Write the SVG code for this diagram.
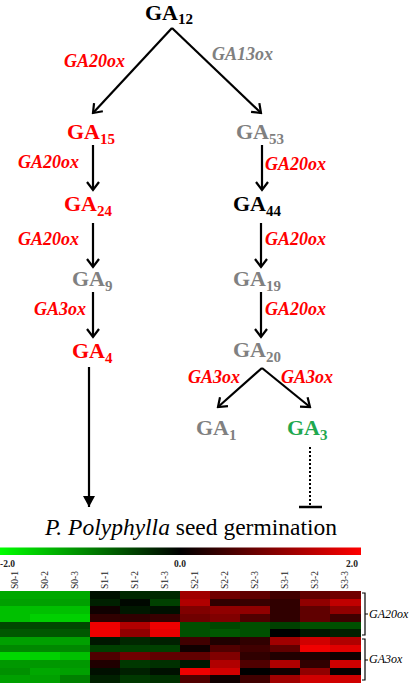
<svg xmlns="http://www.w3.org/2000/svg" width="409" height="685" viewBox="0 0 409 685">
<style>
text{font-family:"Liberation Serif","Times New Roman",Times,"DejaVu Serif",serif}
.ga{font-weight:bold;font-size:22px}
.sub{font-size:15px}
.enz{font-weight:bold;font-style:italic;font-size:18px}
.red{fill:#ff0000}
.gray{fill:#808080}
.blk{fill:#000000}
.grn{fill:#1fa84f}
.ln{stroke:#000;stroke-width:2.2;fill:none}
.sm{font-size:9.5px;fill:#222}
.br{stroke:#000;stroke-width:1.2;fill:none}
.gl{font-style:italic;font-size:12px;fill:#000}
</style>
<defs>
<marker id="v" viewBox="-10 -8 12 16" markerWidth="12" markerHeight="16" refX="0" refY="0" orient="auto" markerUnits="userSpaceOnUse">
<path d="M-8,-6 L0,0 L-8,6" stroke="#000" stroke-width="2.2" fill="none"/>
</marker>
<marker id="f" viewBox="-12 -8 14 16" markerWidth="14" markerHeight="16" refX="0" refY="0" orient="auto" markerUnits="userSpaceOnUse">
<path d="M-11,-6 L0,0 L-11,6 Z" fill="#000"/>
</marker>
<linearGradient id="cb" x1="0" x2="1" y1="0" y2="0">
<stop offset="0" stop-color="#00ff00"/>
<stop offset="0.5" stop-color="#000000"/>
<stop offset="1" stop-color="#ff0000"/>
</linearGradient>
</defs>
<rect width="409" height="685" fill="#fff"/>

<g id="connectors">
<line class="ln" x1="172" y1="28" x2="93" y2="113" marker-end="url(#v)"/>
<line class="ln" x1="172" y1="28" x2="261" y2="113" marker-end="url(#v)"/>
<line class="ln" x1="93" y1="145" x2="93" y2="190" marker-end="url(#v)"/>
<line class="ln" x1="93" y1="223" x2="93" y2="267" marker-end="url(#v)"/>
<line class="ln" x1="93" y1="292" x2="93" y2="337" marker-end="url(#v)"/>
<line class="ln" x1="262" y1="145" x2="262" y2="190" marker-end="url(#v)"/>
<line class="ln" x1="261" y1="223" x2="261" y2="267" marker-end="url(#v)"/>
<line class="ln" x1="261" y1="292" x2="261" y2="337" marker-end="url(#v)"/>
<line class="ln" x1="262" y1="368" x2="218" y2="407" marker-end="url(#v)"/>
<line class="ln" x1="262" y1="368" x2="310" y2="407" marker-end="url(#v)"/>
<line class="ln" x1="89" y1="367" x2="89" y2="507" marker-end="url(#f)"/>
<line x1="310" y1="447" x2="310" y2="505" stroke="#000" stroke-width="2" stroke-dasharray="2,2"/>
<line x1="299" y1="507" x2="322" y2="507" stroke="#000" stroke-width="2.5"/>
</g>

<g id="enzymes">
<text class="enz red" x="64" y="67">GA20ox</text>
<text class="enz gray" x="212" y="60">GA13ox</text>
<text class="enz red" x="18" y="168">GA20ox</text>
<text class="enz red" x="18" y="245">GA20ox</text>
<text class="enz red" x="34" y="315">GA3ox</text>
<text class="enz red" x="265" y="170">GA20ox</text>
<text class="enz red" x="265" y="245">GA20ox</text>
<text class="enz red" x="265" y="315">GA20ox</text>
<text class="enz red" x="188" y="383">GA3ox</text>
<text class="enz red" x="281" y="383">GA3ox</text>
</g>

<g id="GA12"><text class="ga blk" x="145" y="20">GA<tspan class="sub" dy="4">12</tspan></text></g>
<g id="GA15"><text class="ga red" x="67" y="139">GA<tspan class="sub" dy="5">15</tspan></text></g>
<g id="GA53"><text class="ga gray" x="236" y="139">GA<tspan class="sub" dy="5">53</tspan></text></g>
<g id="GA24"><text class="ga red" x="64" y="211">GA<tspan class="sub" dy="5">24</tspan></text></g>
<g id="GA44"><text class="ga blk" x="233" y="211">GA<tspan class="sub" dy="5">44</tspan></text></g>
<g id="GA9"><text class="ga gray" x="72" y="286">GA<tspan class="sub" dy="5">9</tspan></text></g>
<g id="GA19"><text class="ga gray" x="233" y="286">GA<tspan class="sub" dy="5">19</tspan></text></g>
<g id="GA4"><text class="ga red" x="72" y="358">GA<tspan class="sub" dy="5">4</tspan></text></g>
<g id="GA20"><text class="ga gray" x="233" y="357" font-weight="normal">GA<tspan class="sub" dy="5">20</tspan></text></g>
<g id="GA1"><text class="ga gray" x="196" y="435">GA<tspan class="sub" dy="5">1</tspan></text></g>
<g id="GA3"><text class="ga grn" x="287" y="435">GA<tspan class="sub" dy="5">3</tspan></text></g>

<g id="germination">
<text x="45" y="535" font-size="23.5" fill="#000"><tspan font-style="italic">P. Polyphylla</tspan> seed germination</text>
</g>

<g id="colorbar">
<rect x="0" y="547.5" width="361" height="7.5" fill="url(#cb)"/>
<text class="sm" x="0" y="567" font-weight="bold" font-size="9">-2.0</text>
<text class="sm" x="174" y="567" font-weight="bold" font-size="9">0.0</text>
<text class="sm" x="346" y="567" font-weight="bold" font-size="9">2.0</text>
</g>

<g id="samples">
<text class="sm" transform="translate(18,589) rotate(-90)">S0-1</text>
<text class="sm" transform="translate(48,589) rotate(-90)">S0-2</text>
<text class="sm" transform="translate(78,589) rotate(-90)">S0-3</text>
<text class="sm" transform="translate(108,589) rotate(-90)">S1-1</text>
<text class="sm" transform="translate(138,589) rotate(-90)">S1-2</text>
<text class="sm" transform="translate(168,589) rotate(-90)">S1-3</text>
<text class="sm" transform="translate(198,589) rotate(-90)">S2-1</text>
<text class="sm" transform="translate(228,589) rotate(-90)">S2-2</text>
<text class="sm" transform="translate(258,589) rotate(-90)">S2-3</text>
<text class="sm" transform="translate(288,589) rotate(-90)">S3-1</text>
<text class="sm" transform="translate(318,589) rotate(-90)">S3-2</text>
<text class="sm" transform="translate(348,589) rotate(-90)">S3-3</text>
</g>

<g id="heatmap" shape-rendering="crispEdges">
<g transform="translate(0,591)">
<rect x="0" y="0" width="30.1" height="7.7" fill="#00a800"/><rect x="30" y="0" width="30.1" height="7.7" fill="#00a800"/><rect x="60" y="0" width="30.1" height="7.7" fill="#00a800"/><rect x="90" y="0" width="30.1" height="7.7" fill="#001000"/><rect x="120" y="0" width="30.1" height="7.7" fill="#002800"/><rect x="150" y="0" width="30.1" height="7.7" fill="#002800"/><rect x="180" y="0" width="30.1" height="7.7" fill="#a00000"/><rect x="210" y="0" width="30.1" height="7.7" fill="#700000"/><rect x="240" y="0" width="30.1" height="7.7" fill="#600000"/><rect x="270" y="0" width="30.1" height="7.7" fill="#400000"/><rect x="300" y="0" width="30.1" height="7.7" fill="#600000"/><rect x="330" y="0" width="31" height="7.7" fill="#700000"/>
</g>
<g transform="translate(0,598.67)">
<rect x="0" y="0" width="30.1" height="7.7" fill="#00a000"/><rect x="30" y="0" width="30.1" height="7.7" fill="#00a000"/><rect x="60" y="0" width="30.1" height="7.7" fill="#00a000"/><rect x="90" y="0" width="30.1" height="7.7" fill="#002000"/><rect x="120" y="0" width="30.1" height="7.7" fill="#000800"/><rect x="150" y="0" width="30.1" height="7.7" fill="#004000"/><rect x="180" y="0" width="30.1" height="7.7" fill="#b00000"/><rect x="210" y="0" width="30.1" height="7.7" fill="#300000"/><rect x="240" y="0" width="30.1" height="7.7" fill="#380000"/><rect x="270" y="0" width="30.1" height="7.7" fill="#300000"/><rect x="300" y="0" width="30.1" height="7.7" fill="#900000"/><rect x="330" y="0" width="31" height="7.7" fill="#c00000"/>
</g>
<g transform="translate(0,606.33)">
<rect x="0" y="0" width="30.1" height="7.7" fill="#00c000"/><rect x="30" y="0" width="30.1" height="7.7" fill="#00c000"/><rect x="60" y="0" width="30.1" height="7.7" fill="#00c000"/><rect x="90" y="0" width="30.1" height="7.7" fill="#100000"/><rect x="120" y="0" width="30.1" height="7.7" fill="#001800"/><rect x="150" y="0" width="30.1" height="7.7" fill="#001000"/><rect x="180" y="0" width="30.1" height="7.7" fill="#800000"/><rect x="210" y="0" width="30.1" height="7.7" fill="#900000"/><rect x="240" y="0" width="30.1" height="7.7" fill="#900000"/><rect x="270" y="0" width="30.1" height="7.7" fill="#300000"/><rect x="300" y="0" width="30.1" height="7.7" fill="#600000"/><rect x="330" y="0" width="31" height="7.7" fill="#900000"/>
</g>
<g transform="translate(0,614)">
<rect x="0" y="0" width="30.1" height="7.7" fill="#00c000"/><rect x="30" y="0" width="30.1" height="7.7" fill="#00d000"/><rect x="60" y="0" width="30.1" height="7.7" fill="#00d000"/><rect x="90" y="0" width="30.1" height="7.7" fill="#300000"/><rect x="120" y="0" width="30.1" height="7.7" fill="#300000"/><rect x="150" y="0" width="30.1" height="7.7" fill="#380000"/><rect x="180" y="0" width="30.1" height="7.7" fill="#700000"/><rect x="210" y="0" width="30.1" height="7.7" fill="#800000"/><rect x="240" y="0" width="30.1" height="7.7" fill="#500000"/><rect x="270" y="0" width="30.1" height="7.7" fill="#300000"/><rect x="300" y="0" width="30.1" height="7.7" fill="#600000"/><rect x="330" y="0" width="31" height="7.7" fill="#400000"/>
</g>
<g transform="translate(0,621.67)">
<rect x="0" y="0" width="30.1" height="7.7" fill="#004800"/><rect x="30" y="0" width="30.1" height="7.7" fill="#004800"/><rect x="60" y="0" width="30.1" height="7.7" fill="#004800"/><rect x="90" y="0" width="30.1" height="7.7" fill="#f00000"/><rect x="120" y="0" width="30.1" height="7.7" fill="#b00000"/><rect x="150" y="0" width="30.1" height="7.7" fill="#f00000"/><rect x="180" y="0" width="30.1" height="7.7" fill="#005000"/><rect x="210" y="0" width="30.1" height="7.7" fill="#004800"/><rect x="240" y="0" width="30.1" height="7.7" fill="#005000"/><rect x="270" y="0" width="30.1" height="7.7" fill="#004000"/><rect x="300" y="0" width="30.1" height="7.7" fill="#005000"/><rect x="330" y="0" width="31" height="7.7" fill="#005000"/>
</g>
<g transform="translate(0,629.33)">
<rect x="0" y="0" width="30.1" height="7.7" fill="#005800"/><rect x="30" y="0" width="30.1" height="7.7" fill="#005800"/><rect x="60" y="0" width="30.1" height="7.7" fill="#005800"/><rect x="90" y="0" width="30.1" height="7.7" fill="#f00000"/><rect x="120" y="0" width="30.1" height="7.7" fill="#900000"/><rect x="150" y="0" width="30.1" height="7.7" fill="#e80000"/><rect x="180" y="0" width="30.1" height="7.7" fill="#005000"/><rect x="210" y="0" width="30.1" height="7.7" fill="#005800"/><rect x="240" y="0" width="30.1" height="7.7" fill="#005000"/><rect x="270" y="0" width="30.1" height="7.7" fill="#000000"/><rect x="300" y="0" width="30.1" height="7.7" fill="#001800"/><rect x="330" y="0" width="31" height="7.7" fill="#002000"/>
</g>
<g transform="translate(0,637)">
<rect x="0" y="0" width="30.1" height="7.7" fill="#00a000"/><rect x="30" y="0" width="30.1" height="7.7" fill="#00a000"/><rect x="60" y="0" width="30.1" height="7.7" fill="#00a000"/><rect x="90" y="0" width="30.1" height="7.7" fill="#001800"/><rect x="120" y="0" width="30.1" height="7.7" fill="#002800"/><rect x="150" y="0" width="30.1" height="7.7" fill="#002000"/><rect x="180" y="0" width="30.1" height="7.7" fill="#400000"/><rect x="210" y="0" width="30.1" height="7.7" fill="#200000"/><rect x="240" y="0" width="30.1" height="7.7" fill="#300000"/><rect x="270" y="0" width="30.1" height="7.7" fill="#a00000"/><rect x="300" y="0" width="30.1" height="7.7" fill="#d00000"/><rect x="330" y="0" width="31" height="7.7" fill="#b00000"/>
</g>
<g transform="translate(0,644.67)">
<rect x="0" y="0" width="30.1" height="7.7" fill="#008800"/><rect x="30" y="0" width="30.1" height="7.7" fill="#008800"/><rect x="60" y="0" width="30.1" height="7.7" fill="#008800"/><rect x="90" y="0" width="30.1" height="7.7" fill="#004000"/><rect x="120" y="0" width="30.1" height="7.7" fill="#004000"/><rect x="150" y="0" width="30.1" height="7.7" fill="#004000"/><rect x="180" y="0" width="30.1" height="7.7" fill="#100000"/><rect x="210" y="0" width="30.1" height="7.7" fill="#500000"/><rect x="240" y="0" width="30.1" height="7.7" fill="#400000"/><rect x="270" y="0" width="30.1" height="7.7" fill="#600000"/><rect x="300" y="0" width="30.1" height="7.7" fill="#f00000"/><rect x="330" y="0" width="31" height="7.7" fill="#e00000"/>
</g>
<g transform="translate(0,652.33)">
<rect x="0" y="0" width="30.1" height="7.7" fill="#00d800"/><rect x="30" y="0" width="30.1" height="7.7" fill="#00d000"/><rect x="60" y="0" width="30.1" height="7.7" fill="#00c000"/><rect x="90" y="0" width="30.1" height="7.7" fill="#500000"/><rect x="120" y="0" width="30.1" height="7.7" fill="#700000"/><rect x="150" y="0" width="30.1" height="7.7" fill="#600000"/><rect x="180" y="0" width="30.1" height="7.7" fill="#600000"/><rect x="210" y="0" width="30.1" height="7.7" fill="#800000"/><rect x="240" y="0" width="30.1" height="7.7" fill="#300000"/><rect x="270" y="0" width="30.1" height="7.7" fill="#200000"/><rect x="300" y="0" width="30.1" height="7.7" fill="#200000"/><rect x="330" y="0" width="31" height="7.7" fill="#100000"/>
</g>
<g transform="translate(0,660)">
<rect x="0" y="0" width="30.1" height="7.7" fill="#009800"/><rect x="30" y="0" width="30.1" height="7.7" fill="#009800"/><rect x="60" y="0" width="30.1" height="7.7" fill="#009800"/><rect x="90" y="0" width="30.1" height="7.7" fill="#200000"/><rect x="120" y="0" width="30.1" height="7.7" fill="#003800"/><rect x="150" y="0" width="30.1" height="7.7" fill="#003000"/><rect x="180" y="0" width="30.1" height="7.7" fill="#001800"/><rect x="210" y="0" width="30.1" height="7.7" fill="#b00000"/><rect x="240" y="0" width="30.1" height="7.7" fill="#500000"/><rect x="270" y="0" width="30.1" height="7.7" fill="#b00000"/><rect x="300" y="0" width="30.1" height="7.7" fill="#300000"/><rect x="330" y="0" width="31" height="7.7" fill="#d00000"/>
</g>
<g transform="translate(0,667.67)">
<rect x="0" y="0" width="30.1" height="7.7" fill="#009000"/><rect x="30" y="0" width="30.1" height="7.7" fill="#00a800"/><rect x="60" y="0" width="30.1" height="7.7" fill="#00a000"/><rect x="90" y="0" width="30.1" height="7.7" fill="#001000"/><rect x="120" y="0" width="30.1" height="7.7" fill="#002000"/><rect x="150" y="0" width="30.1" height="7.7" fill="#001000"/><rect x="180" y="0" width="30.1" height="7.7" fill="#f00000"/><rect x="210" y="0" width="30.1" height="7.7" fill="#d00000"/><rect x="240" y="0" width="30.1" height="7.7" fill="#000000"/><rect x="270" y="0" width="30.1" height="7.7" fill="#100000"/><rect x="300" y="0" width="30.1" height="7.7" fill="#900000"/><rect x="330" y="0" width="31" height="7.7" fill="#080000"/>
</g>
<g transform="translate(0,675.33)">
<rect x="0" y="0" width="30.1" height="7.7" fill="#00a000"/><rect x="30" y="0" width="30.1" height="7.7" fill="#00a000"/><rect x="60" y="0" width="30.1" height="7.7" fill="#008000"/><rect x="90" y="0" width="30.1" height="7.7" fill="#002000"/><rect x="120" y="0" width="30.1" height="7.7" fill="#003800"/><rect x="150" y="0" width="30.1" height="7.7" fill="#003000"/><rect x="180" y="0" width="30.1" height="7.7" fill="#500000"/><rect x="210" y="0" width="30.1" height="7.7" fill="#100000"/><rect x="240" y="0" width="30.1" height="7.7" fill="#400000"/><rect x="270" y="0" width="30.1" height="7.7" fill="#a00000"/><rect x="300" y="0" width="30.1" height="7.7" fill="#d00000"/><rect x="330" y="0" width="31" height="7.7" fill="#d00000"/>
</g>
</g>

<g id="brackets">
<path class="br" d="M362,593 H365 V635 H362 M365,614 H368"/>
<path class="br" d="M362,639 H365 V680 H362 M365,660 H368"/>
<text class="gl" x="369" y="618">GA20ox</text>
<text class="gl" x="369" y="663">GA3ox</text>
</g>
</svg>
